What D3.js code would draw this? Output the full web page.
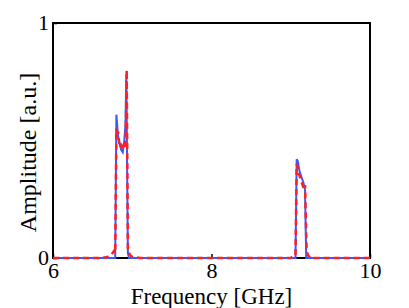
<!DOCTYPE html>
<html>
<head>
<meta charset="utf-8">
<script src="https://cdn.jsdelivr.net/npm/d3@7"></script>
<style>
  body { margin: 0; background: #fff; }
</style>
</head>
<body>
<div id="vis"></div>
<script>
// datos
const xTicks = [6, 8, 10];
const yTicks = [0, 1];

const freqBlue = [6, 6.785, 6.8, 6.82, 6.84, 6.86, 6.88, 6.9, 6.915, 6.925, 6.945, 6.96,
  9.06, 9.075, 9.09, 9.11, 9.13, 9.16, 9.18, 9.195, 10];
const ampBlue = [0, 0, 0.61, 0.52, 0.49, 0.46, 0.45, 0.5, 0.57, 0.78, 0.02, 0,
  0, 0.42, 0.41, 0.37, 0.35, 0.32, 0.29, 0, 0];

const freqRed = [6, 6.6, 6.7, 6.73, 6.75, 6.77, 6.785, 6.8, 6.81, 6.82, 6.84, 6.86, 6.88,
  6.9, 6.915, 6.93, 6.945, 6.96, 6.98, 7.0, 7.1, 9.0, 9.04, 9.06, 9.075, 9.09, 9.11,
  9.13, 9.15, 9.17, 9.18, 9.2, 9.22, 9.25, 10];
const ampRed = [0, 0, 0.005, 0.01, 0.02, 0.03, 0.02, 0.55, 0.52, 0.54, 0.47, 0.48, 0.46,
  0.49, 0.47, 0.8, 0.03, 0.02, 0.01, 0.005, 0, 0, 0.01, 0.01, 0.4, 0.38, 0.35,
  0.33, 0.31, 0.29, 0.31, 0.03, 0.01, 0, 0];

const WIDTH = 409;
const HEIGHT = 308;
const MARGIN = { top: 23, bottom: 50, right: 39, left: 53 };
const FONT = "'Liberation Serif', 'Times New Roman', Times, serif";

const SVG = d3.select("#vis").append("svg")
  .attr("width", WIDTH).attr("height", HEIGHT);

const innerW = WIDTH - MARGIN.left - MARGIN.right;
const innerH = HEIGHT - MARGIN.top - MARGIN.bottom;

const xScale = d3.scaleLinear().domain([6, 10]).range([0, innerW]);
const yScale = d3.scaleLinear().domain([0, 1]).range([innerH, 0]);

const g = SVG.append("g").attr("transform", `translate(${MARGIN.left}, ${MARGIN.top})`);

// caja
g.append("rect")
  .attr("width", innerW).attr("height", innerH)
  .attr("fill", "none").attr("stroke", "#000").attr("stroke-width", 2);

const fmt = d3.format("d");
const xAxis = g.append("g").attr("transform", `translate(0, ${innerH})`)
  .call(d3.axisBottom(xScale).tickValues(xTicks).tickFormat(fmt).tickSizeInner(0).tickSizeOuter(0).tickPadding(4));
const yAxis = g.append("g")
  .call(d3.axisLeft(yScale).tickValues(yTicks).tickFormat(fmt).tickSizeInner(0).tickSizeOuter(0).tickPadding(4));

[xAxis, yAxis].forEach(ax => {
  ax.attr("font-family", FONT).attr("font-size", 22);
  ax.select(".domain").remove();
  ax.selectAll("line").attr("stroke", "#000").attr("stroke-width", 1.5);
  ax.selectAll("text").attr("font-family", FONT).attr("font-size", 22).attr("fill", "#000");
});
xAxis.selectAll(".tick line").attr("y2", -4);
yAxis.selectAll(".tick line").attr("x2", 4);
yAxis.selectAll(".tick text").attr("dy", "0.3em");

const line = d3.line().x(d => xScale(d[0])).y(d => yScale(d[1]));

g.append("path")
  .datum(d3.zip(freqBlue, ampBlue))
  .attr("d", line)
  .attr("fill", "none").attr("stroke", "#3a58ff").attr("stroke-width", 2);

g.append("path")
  .datum(d3.zip(freqRed, ampRed))
  .attr("d", line)
  .attr("fill", "none").attr("stroke", "#ff1f26").attr("stroke-width", 2.5)
  .attr("stroke-dasharray", "6,4");

// etiquetas
SVG.append("text")
  .attr("x", MARGIN.left + innerW / 2).attr("y", 304)
  .attr("text-anchor", "middle").attr("font-size", 23).attr("font-family", FONT)
  .text("Frequency [GHz]");

SVG.append("text")
  .attr("transform", `translate(36, ${MARGIN.top + innerH / 2 + 12}) rotate(-90)`)
  .attr("text-anchor", "middle").attr("font-size", 24).attr("font-family", FONT)
  .text("Amplitude [a.u.]");
</script>
</body>
</html>
